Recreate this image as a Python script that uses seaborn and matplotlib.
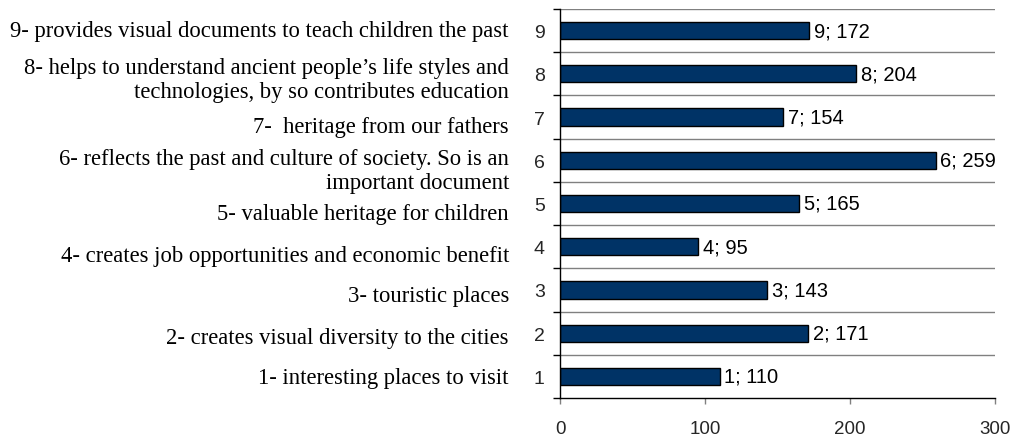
import matplotlib
matplotlib.use("Agg")
import matplotlib.pyplot as plt
import matplotlib.transforms as mtransforms
import seaborn as sns
import pandas as pd

# ---- data ----
categories = ["9", "8", "7", "6", "5", "4", "3", "2", "1"]
values = [172, 204, 154, 259, 165, 95, 143, 171, 110]
descriptions = [
    "9- provides visual documents to teach children the past",
    "8- helps to understand ancient people\u2019s life styles and\ntechnologies, by so contributes education",
    "7-  heritage from our fathers",
    "6- reflects the past and culture of society. So is an\nimportant document",
    "5- valuable heritage for children",
    "4- creates job opportunities and economic benefit",
    "3- touristic places",
    "2- creates visual diversity to the cities",
    "1- interesting places to visit",
]
xticks = [0, 100, 200, 300]

# ---- style ----
sns.set_theme(style="white")
plt.rcParams["font.family"] = ["Liberation Sans", "DejaVu Sans"]

df = pd.DataFrame({"cat": categories, "val": values})

fig = plt.figure(figsize=(10.17, 4.39), dpi=100)
ax = fig.add_axes([560 / 1017, 1 - 399 / 439, 435 / 1017, 389 / 439])

sns.barplot(data=df, x="val", y="cat", order=categories, orient="h",
            color="#003366", saturation=1, width=0.4,
            edgecolor="black", linewidth=1.0, ax=ax)

ax.set_xlim(0, 300)
ax.set_ylim(len(categories) - 0.5, -0.5)
ax.set_xticks(xticks)
ax.set_xticklabels([str(t) for t in xticks], fontsize=13.5)
ax.set_xlabel("")
ax.set_ylabel("")
ax.tick_params(axis="y", which="major", length=0, labelsize=14, pad=11)
ax.tick_params(axis="x", which="major", direction="out", length=4.5, width=1,
               color="#808080", pad=11.5, bottom=True)

# category boundaries: gridlines & outward minor ticks
bounds = [i - 0.5 for i in range(len(categories) + 1)]
ax.set_yticks(bounds, minor=True)
ax.tick_params(axis="y", which="minor", direction="out", length=5, width=1,
               color="black", left=True)
for b in bounds[:-1]:
    ax.axhline(b, color="#808080", linewidth=1.0, zorder=0)

for s in ["top", "right"]:
    ax.spines[s].set_visible(False)
for s in ["left", "bottom"]:
    ax.spines[s].set_color("black")
    ax.spines[s].set_linewidth(1.0)

# value labels
for i, (c, v) in enumerate(zip(categories, values)):
    ax.annotate(f"{c}; {v}", xy=(v, i), xytext=(3.5, 0), textcoords="offset points",
                va="center", ha="left", fontsize=14.5, color="black")

# descriptive labels to the left
label_dy_px = [0, 6, 9, 10, 10, 9, 6, 4, 1]
blend = mtransforms.blended_transform_factory(fig.transFigure, ax.transData)
for i, (txt, dy) in enumerate(zip(descriptions, label_dy_px)):
    tr = mtransforms.offset_copy(blend, fig=fig, x=0, y=-dy, units="dots")
    ax.text(509 / 1017, i, txt, transform=tr, ha="right", va="center",
            fontsize=16.25, family=["Liberation Serif", "DejaVu Serif"],
            color="black", linespacing=1.2, multialignment="right")

fig.savefig("out.png", dpi=100)
